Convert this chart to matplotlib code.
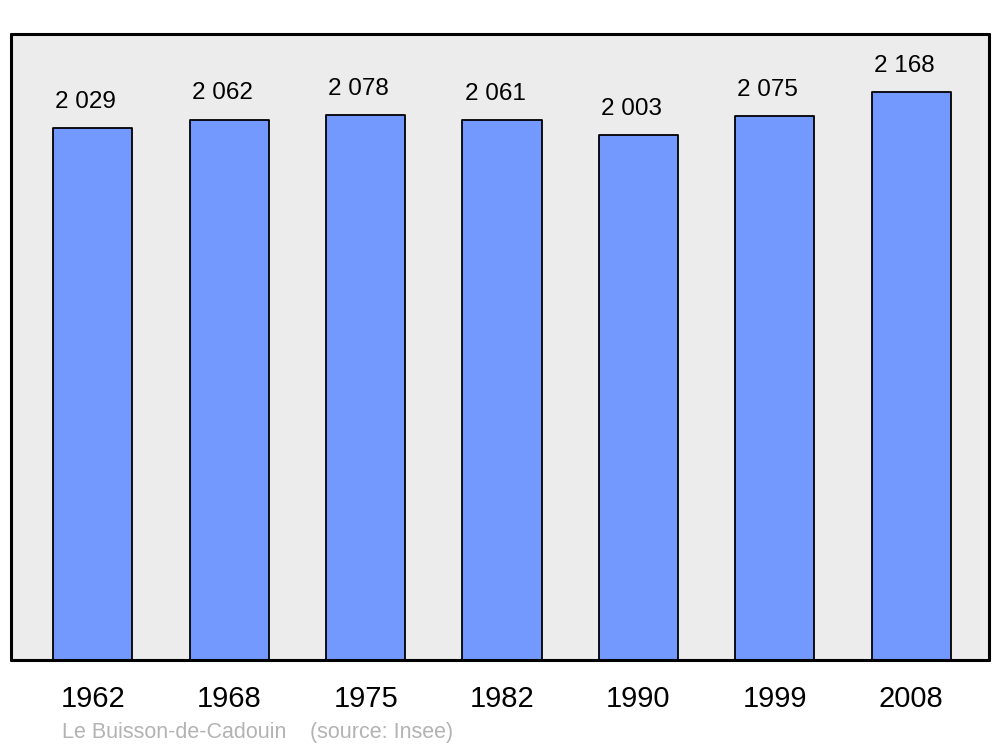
import matplotlib.pyplot as plt

years = ['1962', '1968', '1975', '1982', '1990', '1999', '2008']
population = [2029, 2062, 2078, 2061, 2003, 2075, 2168]
value_labels = ['2 029', '2 062', '2 078', '2 061', '2 003', '2 075', '2 168']

plt.rcParams['font.family'] = ['Liberation Sans', 'DejaVu Sans']

fig = plt.figure(figsize=(10, 7.47), dpi=100)
ax = fig.add_axes([0.011, 0.1165, 0.978, 0.838])
ax.set_facecolor('#ececec')

x = range(len(years))
bars = ax.bar(x, population, width=0.58, color='#7399ff',
              edgecolor='black', linewidth=1.3, joinstyle='round')

for xi, v, lab in zip(x, population, value_labels):
    ax.annotate(lab, (xi, v), xytext=(-5, 11), textcoords='offset points',
                ha='center', va='bottom', fontsize=17.5)

ax.set_xlim(-0.6, 6.57)
ax.set_ylim(0, 2389)
ax.set_yticks([])
ax.set_xticks(list(x))
ax.set_xticklabels(years, fontsize=21)
ax.tick_params(axis='x', length=0, pad=18)
for s in ax.spines.values():
    s.set_linewidth(2.2)
    s.set_capstyle('round')

fig.text(0.062, 0.012, 'Le Buisson-de-Cadouin', color='#b3b3b3', fontsize=15.5)
fig.text(0.31, 0.012, '(source: Insee)', color='#b3b3b3', fontsize=15.5)

fig.savefig('out.png', dpi=100)
